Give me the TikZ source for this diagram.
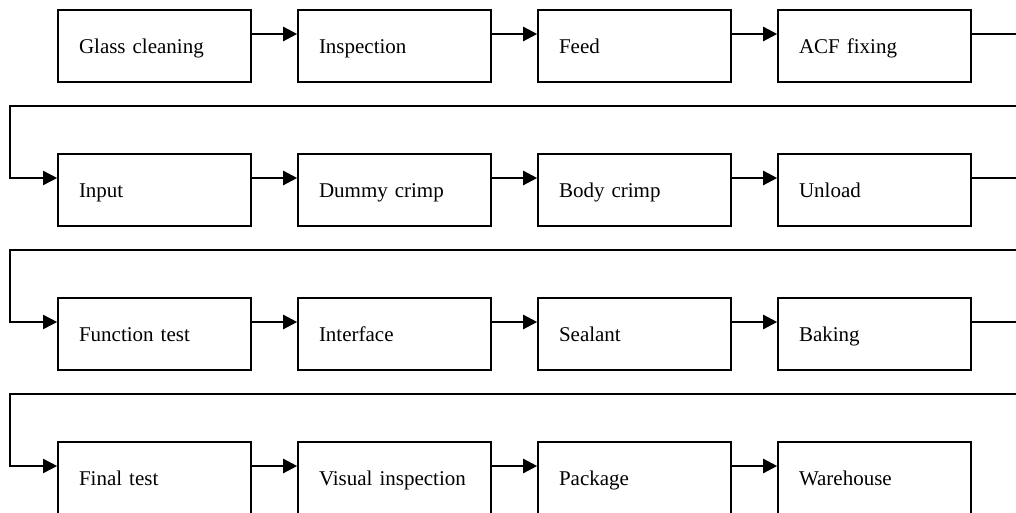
\documentclass[tikz,border=0pt]{standalone}
\usepackage{fontspec}
\setmainfont{Liberation Serif}
\usetikzlibrary{arrows.meta}
\begin{document}
\begin{tikzpicture}[x=1pt,y=-1pt,
  stepbox/.style={draw,line width=1.6pt,minimum width=193pt,minimum height=72pt,
    text width=151pt,align=left,inner xsep=21pt,inner ysep=0pt,
    text height=15pt,text depth=0.4pt,font=\fontsize{21}{25}\selectfont},
  flow/.style={line width=2.4pt,-{Triangle[length=14pt,width=14pt]}},
  wrap/.style={line width=1.6pt,-{Triangle[length=14pt,width=14pt]}}]
\useasboundingbox (0,0) rectangle (1016,513);
% process steps, four per row
\foreach \n/\t [count=\i from 0] in {
  b1/Glass cleaning, b2/Inspection, b3/Feed, b4/ACF fixing,
  b5/Input, b6/Dummy crimp, b7/Body crimp, b8/Unload,
  b9/Function test, b10/Interface, b11/Sealant, b12/Baking,
  b13/Final test, b14/Visual inspection, b15/Package, b16/Warehouse}{
  \pgfmathtruncatemacro\col{mod(\i,4)}
  \pgfmathtruncatemacro\row{div(\i,4)}
  \node[stepbox] (\n) at (154.5+240*\col,46+144*\row) {\t};
}
% arrows within each row
\foreach \a/\b in {b1/b2,b2/b3,b3/b4,b5/b6,b6/b7,b7/b8,b9/b10,b10/b11,b11/b12,b13/b14,b14/b15,b15/b16}
  \draw[flow] ([yshift=12pt]\a.east) -- ([yshift=12pt]\b.west);
% returns from the end of one row to the start of the next
\foreach \a/\b/\y in {b4/b5/106,b8/b9/250,b12/b13/394}{
  \coordinate (r) at (1024,\y);
  \coordinate (l) at (10,\y);
  \draw[wrap] ([yshift=12pt]\a.east) -| (r) -- (l) |- ([yshift=12pt]\b.west);
}
\end{tikzpicture}
\end{document}
